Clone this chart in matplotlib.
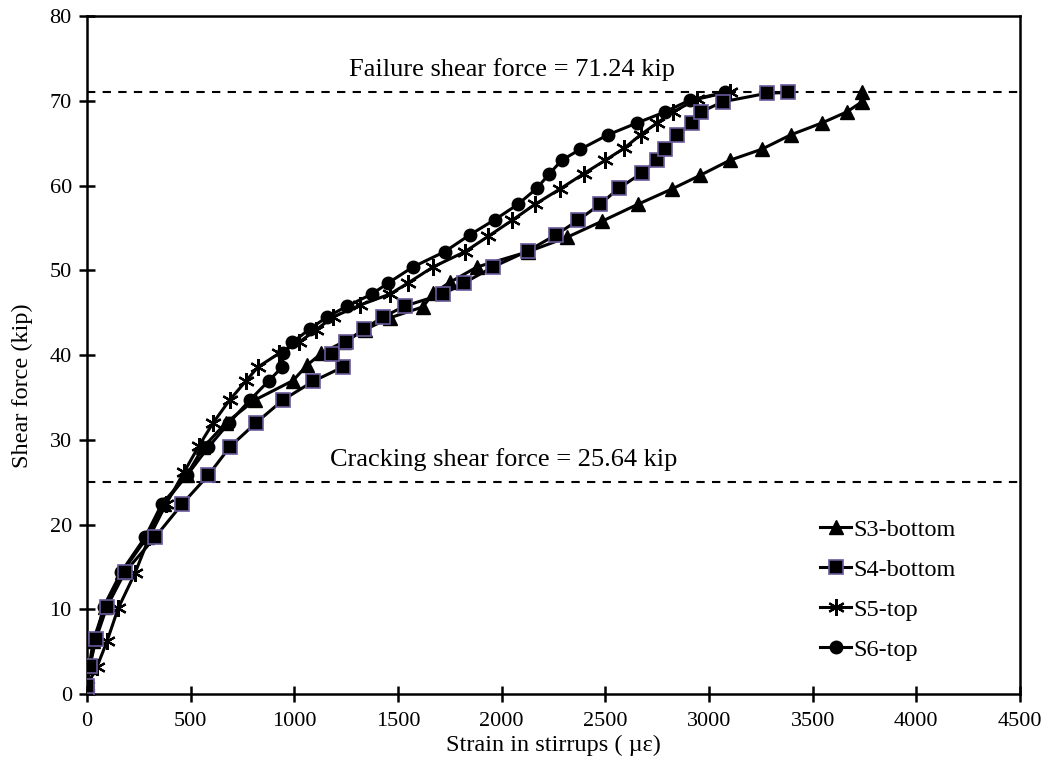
import numpy as np
import matplotlib
matplotlib.use("Agg")
import matplotlib.pyplot as plt

plt.rcParams['font.family'] = ['Liberation Serif', 'DejaVu Serif']

# strain (micro-strain) and shear force (kip)
s3_strain = [0, 0, 10, 30, 85, 170, 290, 370, 480, 560, 670, 810, 994, 1061, 1130,
             1240, 1340, 1461, 1621, 1669, 1751, 1881, 2127, 2315, 2484, 2657,
             2821, 2956, 3101, 3255, 3395, 3545, 3665, 3738, 3738]
s3_force = [0, 1.0, 3.2, 6.3, 10.3, 14.4, 18.5, 22.4, 25.8, 29.1, 32.0, 34.7, 37.0, 38.8, 40.2,
            41.6, 43.0, 44.4, 45.7, 47.3, 48.6, 50.4, 52.2, 53.9, 55.8, 57.8,
            59.6, 61.2, 63.0, 64.3, 66.0, 67.4, 68.7, 69.9, 71.0]

s4_strain = [0, 0, 14, 43, 96, 183, 328, 458, 584, 690, 815, 945, 1090, 1235, 1182,
             1249, 1336, 1428, 1534, 1717, 1818, 1958, 2127, 2262, 2368, 2474,
             2566, 2677, 2749, 2788, 2846, 2918, 2961, 3067, 3280, 3381]
s4_force = [0, 1.0, 3.3, 6.5, 10.3, 14.4, 18.5, 22.4, 25.8, 29.2, 32.0, 34.7, 36.9, 38.6, 40.1,
            41.5, 43.1, 44.5, 45.8, 47.2, 48.5, 50.4, 52.3, 54.2, 55.9, 57.8,
            59.7, 61.5, 63.0, 64.3, 66.0, 67.4, 68.7, 69.9, 70.9, 71.0]

s5_strain = [0, 0, 48, 96, 150, 232, 300, 381, 468, 540, 608, 688, 765, 825, 926,
             1022, 1105, 1187, 1317, 1461, 1548, 1669, 1823, 1934, 2050, 2161,
             2281, 2395, 2500, 2590, 2670, 2750, 2826, 2942, 3101]
s5_force = [0, 1.0, 3.2, 6.2, 10.1, 14.3, 18.5, 22.4, 26.2, 29.3, 32.0, 34.7, 36.9, 38.6, 40.2,
            41.5, 43.0, 44.5, 45.9, 47.2, 48.5, 50.4, 52.2, 54.0, 55.9, 57.8,
            59.6, 61.4, 63.0, 64.4, 66.0, 67.4, 68.7, 70.2, 71.1]

s6_strain = [0, 0, 10, 40, 80, 165, 280, 360, 482, 584, 685, 786, 878, 942, 945,
             991, 1075, 1158, 1256, 1374, 1452, 1572, 1725, 1847, 1968, 2079,
             2170, 2230, 2290, 2380, 2513, 2653, 2788, 2908, 3077]
s6_force = [0, 1.0, 3.2, 6.3, 10.3, 14.4, 18.5, 22.4, 25.8, 29.1, 32.0, 34.7, 37.0, 38.6, 40.2,
            41.5, 43.1, 44.5, 45.8, 47.2, 48.5, 50.4, 52.2, 54.2, 56.0, 57.8,
            59.7, 61.4, 63.0, 64.3, 66.0, 67.4, 68.7, 70.1, 71.0]

failure_force = 71.0
cracking_force = 25.0
failure_label = "Failure shear force = 71.24 kip"
cracking_label = "Cracking shear force = 25.64 kip"

fig = plt.figure(figsize=(10.55, 7.7), dpi=100)
ax = fig.add_axes([0.0825, 0.0987, 0.8843, 0.8803])

lw = 2.2
ax.plot(s3_strain, s3_force, color='black', lw=lw, marker='^', ms=10,
        mfc='black', mec='black', label='S3-bottom', zorder=3)
ax.plot(s4_strain, s4_force, color='black', lw=lw, marker='s', ms=10,
        mfc='black', mec='#6a5a9a', mew=1.2, label='S4-bottom', zorder=4)
ax.plot(s5_strain, s5_force, color='black', lw=lw, marker=(6, 2, 0), ms=12,
        mec='black', mew=1.6, label='S5-top', zorder=3)
ax.plot(s6_strain, s6_force, color='black', lw=lw, marker='o', ms=9,
        mfc='black', mec='black', label='S6-top', zorder=3)

# reference lines
ax.axhline(failure_force, color='black', lw=1.5, ls=(0, (4, 3.5)), zorder=1)
ax.axhline(cracking_force, color='black', lw=1.5, ls=(0, (4, 3.5)), zorder=1)
ax.text(2050, failure_force + 1.4, failure_label, ha='center', va='bottom', fontsize=19)
ax.text(2010, cracking_force + 1.3, cracking_label, ha='center', va='bottom', fontsize=19)

ax.set_xlim(0, 4500)
ax.set_ylim(0, 80)
ax.set_xticks(np.arange(0, 4501, 500))
ax.set_yticks(np.arange(0, 81, 10))
ax.tick_params(direction='inout', length=12, width=1.8, labelsize=16, pad=7)
ax.tick_params(axis='y', pad=5)
for sp in ax.spines.values():
    sp.set_linewidth(1.8)

ax.set_xlabel("Strain in stirrups ( µε)", fontsize=17.5, labelpad=3)
ax.set_ylabel("Shear force (kip)", fontsize=17.5)
ax.yaxis.set_label_coords(-0.058, 0.455)

leg = ax.legend(loc='lower left', bbox_to_anchor=(0.786, 0.049), frameon=False, fontsize=17.5,
                handlelength=1.25, handletextpad=0.12, labelspacing=0.74,
                borderaxespad=0, borderpad=0)

fig.savefig("out.png", dpi=100)
